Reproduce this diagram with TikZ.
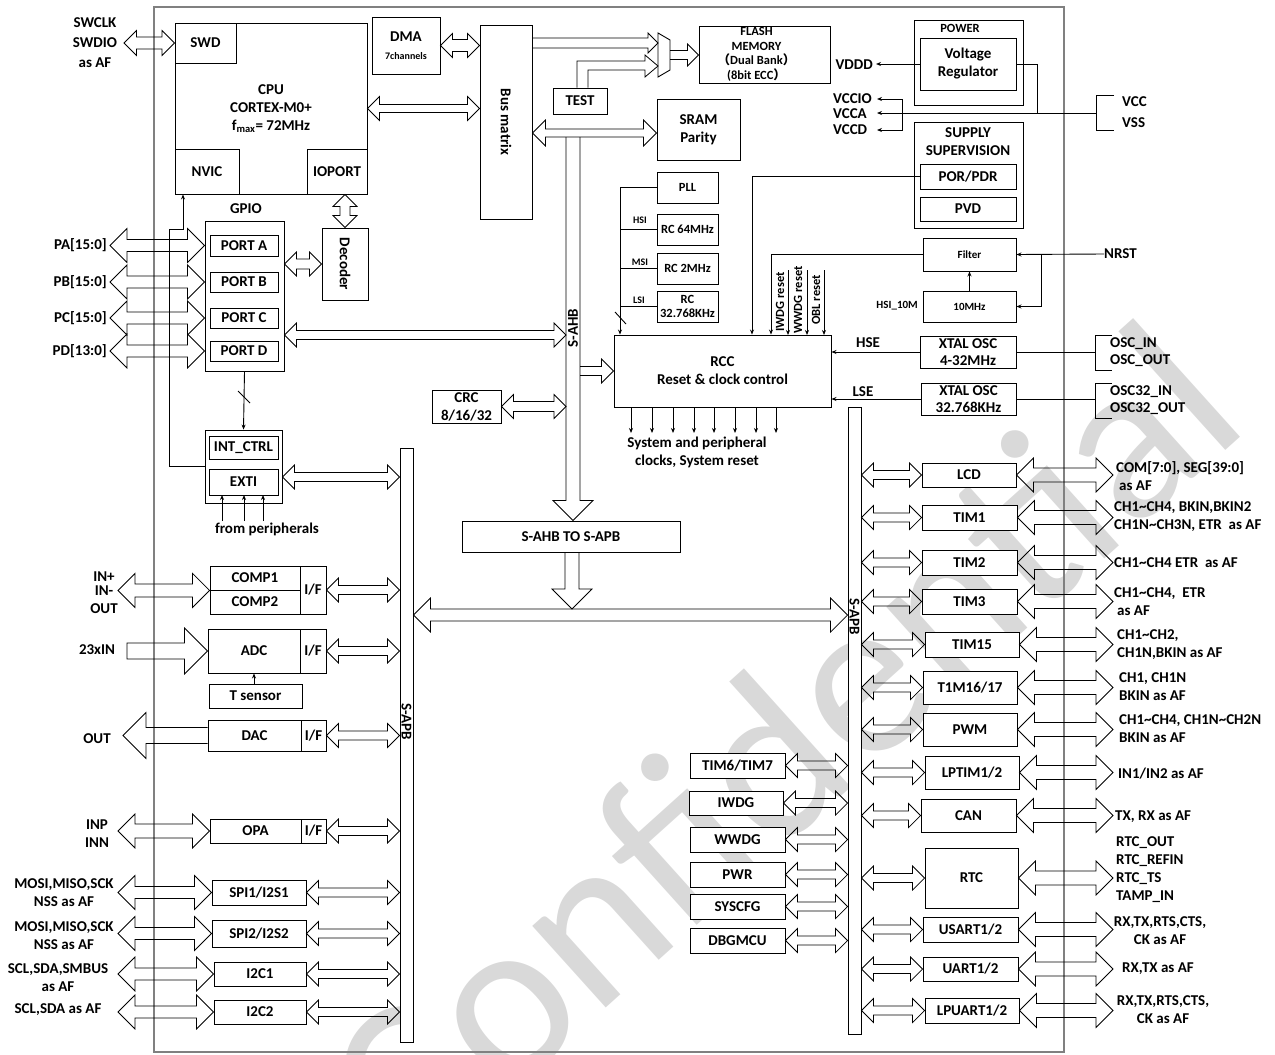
\documentclass[tikz,border=0pt]{standalone}
\usepackage{fontspec}
\setmainfont{Carlito}
\newfontfamily\cjk{Noto Sans CJK SC}
\usetikzlibrary{calc,fit,arrows.meta}

\tikzset{
  box/.style={draw, fill=white, line width=.9pt, inner sep=0pt},
  lbl/.style={font=\bfseries\fontsize{15}{18}\selectfont, inner sep=0pt, align=center},
  mid/.style={font=\bfseries\fontsize{12.5}{14.5}\selectfont, inner sep=0pt, align=center},
  sml/.style={font=\bfseries\fontsize{11}{13}\selectfont, inner sep=0pt, align=center},
  tny/.style={font=\bfseries\fontsize{10}{12}\selectfont, inner sep=0pt},
  fat/.style={draw, line width=.8pt, line join=miter},
  wire/.style={line width=.9pt},
  tarr/.style={wire, -{Stealth[length=5pt,width=4pt]}},
}

% box with a label in its middle
\newcommand\blk[5][lbl]{%
  \node[box, fit={#3 #4}] (#2) {};
  \node[#1] (#2-t) at (#2) {#5};}

% hollow block arrows: from, to, shaft half width, head half width
\newcommand\hdbl[4]{%
  \draw[fat] let \p1=#1, \p2=#2, \n1={sign(\x2-\x1)} in
    (\x1,\y1) -- (\x1+\n1*#4pt,\y1+#4pt) -- (\x1+\n1*#4pt,\y1+#3pt)
    -- (\x2-\n1*#4pt,\y1+#3pt) -- (\x2-\n1*#4pt,\y1+#4pt) -- (\x2,\y1)
    -- (\x2-\n1*#4pt,\y1-#4pt) -- (\x2-\n1*#4pt,\y1-#3pt)
    -- (\x1+\n1*#4pt,\y1-#3pt) -- (\x1+\n1*#4pt,\y1-#4pt) -- cycle;}
\newcommand\vdbl[4]{%
  \draw[fat] let \p1=#1, \p2=#2, \n1={sign(\y2-\y1)} in
    (\x1,\y1) -- (\x1+#4pt,\y1+\n1*#4pt) -- (\x1+#3pt,\y1+\n1*#4pt)
    -- (\x1+#3pt,\y2-\n1*#4pt) -- (\x1+#4pt,\y2-\n1*#4pt) -- (\x1,\y2)
    -- (\x1-#4pt,\y2-\n1*#4pt) -- (\x1-#3pt,\y2-\n1*#4pt)
    -- (\x1-#3pt,\y1+\n1*#4pt) -- (\x1-#4pt,\y1+\n1*#4pt) -- cycle;}
\newcommand\hsgl[5][]{%
  \draw[fat] let \p1=#2, \p2=#3, \n1={sign(\x2-\x1)} in
    (\x1,\y1+#4pt) -- (\x2-\n1*#5pt,\y1+#4pt) -- (\x2-\n1*#5pt,\y1+#5pt)
    -- (\x2,\y1) -- (\x2-\n1*#5pt,\y1-#5pt) -- (\x2-\n1*#5pt,\y1-#4pt)
    -- (\x1,\y1-#4pt) #1;}
\newcommand\vsgl[4]{%
  \draw[fat] let \p1=#1, \p2=#2, \n1={sign(\y2-\y1)} in
    (\x1+#3pt,\y1) -- (\x1+#3pt,\y2-\n1*#4pt) -- (\x1+#4pt,\y2-\n1*#4pt)
    -- (\x1,\y2) -- (\x1-#4pt,\y2-\n1*#4pt) -- (\x1-#3pt,\y2-\n1*#4pt)
    -- (\x1-#3pt,\y1);}

\begin{document}
\begin{tikzpicture}[x=1pt,y=-1pt]
\useasboundingbox (0,0) rectangle (1275,1055);

% watermark and chip outline
\begin{scope}
\clip (0,0) rectangle (1275,1055);
\node[text=gray!30, rotate=42, font=\fontsize{230}{230}\selectfont] (wm) at (780,745) {Confidential};
\end{scope}
\draw[gray, line width=1.3pt] (154,7) rectangle (1064,1052);

% core, bus, memories
\blk{cpu}{(175,23)}{(367,194)}{CPU\\CORTEX-M0+\\f\textsubscript{max}= 72MHz}
\blk{swd}{(175,23)}{(236,63)}{SWD}
\blk{nvic}{(175,149)}{(239,194)}{NVIC}
\blk{ioport}{(307,149)}{(367,194)}{IOPORT}
\blk{dma}{(372,17)}{(440,74)}{DMA\\{\fontsize{10}{12}\selectfont 7channels}}
\blk[lbl,rotate=-90]{bus}{(480,25)}{(532,219)}{Bus matrix}
\blk[mid,xshift=-8pt]{flash}{(699,26)}{(830,83)}{FLASH\\MEMORY\\{\cjk （}Dual Bank{\cjk ）}\\(8bit ECC{\cjk ）}}
\blk{test}{(553,88)}{(607,114)}{TEST}
\blk{sram}{(657,99)}{(740,160)}{SRAM\\Parity}
\draw[box] (658,33) -- (670,40) -- (670,70) -- (658,77) -- cycle;
\coordinate (mux) at (664,55);

% power and supervision
\node[box, fit={(914,20) (1023,105)}] (power) {};
\node[mid] (power-t) at (960,28) {POWER};
\blk{vreg}{(920,38)}{(1016,90)}{Voltage\\Regulator}
\node[box, fit={(914,122) (1023,228)}] (supv) {};
\node[lbl] (supv-t) at (968,142) {SUPPLY\\SUPERVISION};
\blk{por}{(920,164)}{(1016,189)}{POR/PDR}
\blk{pvd}{(920,197)}{(1016,221)}{PVD}

% clocks and reset
\blk[mid]{pll}{(657,172)}{(718,203)}{PLL}
\blk[mid]{rc64}{(657,214)}{(718,245)}{RC 64MHz}
\blk[mid]{rc2}{(657,253)}{(718,284)}{RC 2MHz}
\blk[mid]{rc32}{(657,291)}{(718,322)}{RC\\32.768KHz}
\blk{rcc}{(614,335)}{(831,407)}{RCC\\Reset \& clock control}
\blk[sml]{filter}{(923,238)}{(1016,271)}{Filter}
\blk[sml]{osc10}{(923,291)}{(1016,322)}{10MHz}
\blk{xhse}{(920,336)}{(1016,368)}{XTAL OSC\\[-1pt]4-32MHz}
\blk{xlse}{(921,383)}{(1016,415)}{XTAL OSC\\[-1pt]32.768KHz}

% gpio and interrupts
\node[box, fit={(205,221) (284,371)}] (gpio) {};
\node[lbl] (gpio-t) at (246,209) {GPIO};
\blk{porta}{(210,235)}{(278,256)}{PORT A}
\blk{portb}{(210,272)}{(278,292)}{PORT B}
\blk{portc}{(210,308)}{(278,328)}{PORT C}
\blk{portd}{(210,341)}{(278,361)}{PORT D}
\blk[lbl,rotate=-90]{dec}{(322,228)}{(368,300)}{Decoder}
\node[box, fit={(205,430) (282,503)}] (intbox) {};
\blk{intctrl}{(209,436)}{(278,459)}{INT\_CTRL}
\blk{exti}{(209,469)}{(278,495)}{EXTI}
\blk{crc}{(432,390)}{(501,423)}{CRC\\8/16/32}
\blk{conv}{(462,521)}{(680,552)}{S-AHB TO S-APB}

% apb bars
\node[box, fit={(400,448) (413,1042)}] (apbL) {};
\node[lbl, rotate=-90] (apbL-t) at (406.5,722) {S-APB};
\node[box, fit={(848,407) (861,1034)}] (apbR) {};
\node[lbl, rotate=-90] (apbR-t) at (854.5,617) {S-APB};

% analog and serial blocks
\blk{comp1}{(210,566)}{(300,590)}{COMP1}
\blk{comp2}{(210,590)}{(300,614)}{COMP2}
\blk{compif}{(300,566)}{(326,614)}{I/F}
\blk{adc}{(208,629)}{(300,673)}{ADC}
\blk{adcif}{(300,629)}{(326,673)}{I/F}
\blk{tsens}{(209,684)}{(302,708)}{T sensor}
\blk{dac}{(208,720)}{(301,751)}{DAC}
\blk{dacif}{(301,720)}{(326,751)}{I/F}
\blk{opa}{(210,819)}{(301,843)}{OPA}
\blk{opaif}{(301,819)}{(326,843)}{I/F}
\blk{spi1}{(212,880)}{(306,905)}{SPI1/I2S1}
\blk{spi2}{(212,920)}{(306,947)}{SPI2/I2S2}
\blk{i2c1}{(214,962)}{(306,986)}{I2C1}
\blk{i2c2}{(214,1000)}{(306,1024)}{I2C2}

% system blocks
\blk{tim67}{(690,753)}{(785,778)}{TIM6/TIM7}
\blk{iwdg}{(689,791)}{(783,815)}{IWDG}
\blk{wwdg}{(690,827)}{(785,852)}{WWDG}
\blk{pwr}{(690,862)}{(785,887)}{PWR}
\blk{syscfg}{(690,894)}{(785,919)}{SYSCFG}
\blk{dbg}{(690,928)}{(785,953)}{DBGMCU}

% timers and comms
\blk{lcd}{(922,463)}{(1016,487)}{LCD}
\blk{tim1}{(922,505)}{(1017,530)}{TIM1}
\blk{tim2}{(922,550)}{(1017,575)}{TIM2}
\blk{tim3}{(922,589)}{(1017,614)}{TIM3}
\blk{tim15}{(925,632)}{(1019,657)}{TIM15}
\blk{tim1617}{(923,671)}{(1017,704)}{T1M16/17}
\blk{pwm}{(923,713)}{(1017,746)}{PWM}
\blk{lptim}{(925,756)}{(1019,789)}{LPTIM1/2}
\blk{can}{(921,799)}{(1016,832)}{CAN}
\blk{rtc}{(925,848)}{(1018,908)}{RTC}
\blk{usart}{(923,917)}{(1018,942)}{USART1/2}
\blk{uart}{(923,957)}{(1018,981)}{UART1/2}
\blk{lpuart}{(925,998)}{(1019,1023)}{LPUART1/2}

% bus arrows
\coordinate (ahbL) at (566,137);
\coordinate (ahbR) at (580,137);
\hdbl{(swd.west -| 124,0)}{(swd.west)}{6}{12.5}
\hdbl{(dma.east)}{(bus.west |- dma.east)}{6}{12}
\hdbl{(cpu.east)}{(bus.west |- cpu.east)}{4}{12}
\hsgl{(bus.east |- 0,43)}{(658,43)}{5}{10}
\draw[fat] (test.north -| 577,0) -- (577,61) -- (645,61) -- (645,55) -- (658,66)
  -- (645,77) -- (645,70) -- (588,70) -- (test.north -| 588,0);
\hsgl{(670,55)}{(flash.west)}{4.5}{11}
\hdbl{(bus.east |- 0,133)}{(sram.west |- 0,133)}{4}{13}
\vdbl{(ioport.south -| dec.north)}{(dec.north)}{5}{12}
\hdbl{(gpio.east |- dec)}{(dec.west)}{5}{12}
\vsgl{(573,137)}{(conv.north -| 573,0)}{7}{20}
\node[lbl, rotate=90] (ahb-t) at (573,328) {S-AHB};
\hdbl{(gpio.east |- 0,335)}{(ahbL |- 0,335)}{4.5}{12}
\hdbl{(crc.east)}{(ahbL |- crc.east)}{5}{12}
\hsgl{(ahbR |- rcc.west)}{(rcc.west)}{4.5}{12}
\vsgl{(conv.south -| 572,0)}{(572,609)}{7}{20}
\hdbl{(apbL.east |- 0,615)}{(apbR.west |- 0,615)}{6}{17}
\hdbl{(intbox.east |- 0,477)}{(apbL.west |- 0,477)}{4.5}{12}

% pins on the left
\node[lbl] (swdl) at (95,43) {SWCLK\\[2pt]SWDIO\\[2pt]as AF};
\foreach \port/\lab/\txt in {porta/pa/PA[15:0], portb/pb/PB[15:0], portc/pc/PC[15:0], portd/pd/PD[13:0]}{
  \hdbl{(110,0 |- \port)}{(gpio.west |- \port)}{6}{17}
  \node[lbl, anchor=east] (\lab) at (107,0 |- \port) {\txt};
}
\hdbl{(118,0 |- comp1.south west)}{(comp1.south west)}{6.5}{17}
\node[lbl] (inp1) at (104,577) {IN+};
\node[lbl] (inn1) at (104,591) {IN-};
\node[lbl] (out1) at (104,609) {OUT};
\hsgl[-- cycle]{(127,0 |- adc.west)}{(adc.west)}{8}{23}
\node[lbl] (adcin) at (97,650) {23xIN};
\hsgl{(dac.west)}{(123,0 |- dac.west)}{8}{23}
\node[lbl] (dacout) at (97,739) {OUT};
\hdbl{(118,0 |- opa.west)}{(opa.west)}{7}{17}
\node[lbl] (opal) at (97,834) {INP\\INN};
\foreach \b in {spi1,spi2,i2c1,i2c2}{\hdbl{(118,0 |- \b.west)}{(\b.west)}{6}{17}}
\node[lbl] (spi1l) at (64,893) {MOSI,MISO,SCK\\NSS as AF};
\node[lbl] (spi2l) at (64,936) {MOSI,MISO,SCK\\NSS as AF};
\node[lbl] (i2c1l) at (58,978) {SCL,SDA,SMBUS\\as AF};
\node[lbl] (i2c2l) at (58,1010) {SCL,SDA as AF};
\foreach \b in {compif,adcif,dacif,opaif,spi1,spi2,i2c1,i2c2}{\hdbl{(\b.east)}{(apbL.west |- \b.east)}{4.5}{12}}

% apb peripherals on the right
\foreach \b in {tim67,iwdg,wwdg,pwr,syscfg,dbg}{\hdbl{(\b.east)}{(apbR.west |- \b.east)}{4.5}{12}}
\foreach \b in {lcd,tim1,tim2,tim3,tim15,tim1617,pwm,lptim,can,rtc,usart,uart,lpuart}{
  \hdbl{(apbR.east |- \b.west)}{(\b.west)}{4.5}{12}
  \hdbl{(\b.east)}{(1113,0 |- \b.east)}{7}{17}
}
\node[lbl, anchor=west, align=left] (lcdl) at (1116,476) {COM[7:0], SEG[39:0]\\\hspace*{3pt}as AF};
\node[lbl, anchor=west, align=left] (tim1l) at (1114,517) {CH1\textasciitilde CH4, BKIN,BKIN2\\CH1N\textasciitilde CH3N, ETR\ \ as AF};
\node[lbl, anchor=west, align=left] (tim2l) at (1114,563) {CH1\textasciitilde CH4 ETR\ \ as AF};
\node[lbl, anchor=west, align=left] (tim3l) at (1114,602) {CH1\textasciitilde CH4,\ \ ETR\\\hspace*{3pt}as AF};
\node[lbl, anchor=west, align=left] (tim15l) at (1117,645) {CH1\textasciitilde CH2,\\CH1N,BKIN as AF};
\node[lbl, anchor=west, align=left] (tim1617l) at (1119,687) {CH1, CH1N\\BKIN as AF};
\node[lbl, anchor=west, align=left] (pwml) at (1119,729) {CH1\textasciitilde CH4, CH1N\textasciitilde CH2N\\BKIN as AF};
\node[lbl, anchor=west] (lptiml) at (1118,774) {IN1/IN2 as AF};
\node[lbl, anchor=west] (canl) at (1115,817) {TX, RX as AF};
\node[lbl, anchor=west, align=left] (rtcl) at (1116,870) {RTC\_OUT\\RTC\_REFIN\\RTC\_TS\\TAMP\_IN};
\node[lbl] (usartl) at (1160,931) {RX,TX,RTS,CTS,\\CK as AF};
\node[lbl] (uartl) at (1158,969) {RX,TX as AF};
\node[lbl] (lpuartl) at (1163,1010) {RX,TX,RTS,CTS,\\CK as AF};

% power wiring
\node[lbl, anchor=east] (vddd) at (873,65) {VDDD};
\draw[tarr] (vreg.west) -- (vreg.west -| 876,0);
\draw[wire] (vreg.east) -| (1037,113);
\node[lbl, anchor=west] (vccio) at (833,99) {VCCIO};
\node[lbl, anchor=west] (vcca) at (833,114) {VCCA};
\node[lbl, anchor=west] (vccd) at (833,130) {VCCD};
\coordinate (vcc) at (1096,113);
\draw[tarr] (vcc) -- (vcc -| 877,0);
\draw[tarr] (902,113) |- (vccio.east -| 877,0);
\draw[tarr] (902,113) |- (vccd.east -| 877,0);
\draw[wire] (1114,95) -- (1096,95) -- (1096,130) -- (1114,130);
\node[lbl, anchor=west] (vccl) at (1122,102) {VCC};
\node[lbl, anchor=west] (vssl) at (1122,123) {VSS};

% reset wiring
\draw[tarr] (por.west) -| (rcc.north -| 752,0);
\draw[tarr] (filter.west) -| (rcc.north -| 771,0);
\foreach \x in {788,807,824}{\draw[tarr] (\x,270) -- (\x,335);}
\node[mid, rotate=90] (iwdgr) at (780,302) {IWDG reset};
\node[mid, rotate=90] (wwdgr) at (798,300) {WWDG reset};
\node[mid, rotate=90] (oblr) at (816,300) {OBL reset};
\node[lbl, anchor=west] (nrst) at (1104,254) {NRST};
\draw[tarr] (nrst.west) -- (filter.east);
\draw[tarr] (1041,0 |- filter.east) |- (osc10.east);
\draw[tarr] (osc10.north) -- (filter.south);
\node[sml, anchor=east] (hsi10) at (918,306) {HSI\_10M};

% clock wiring
\coordinate (ck) at (620,187);
\draw[tarr] (pll.west) -| (rcc.north -| ck);
\foreach \b in {rc64,rc2,rc32}{\draw[wire] (\b.west) -- (\b.west -| ck);}
\node[tny] (hsi) at (640,220) {HSI};
\node[tny] (msi) at (640,262) {MSI};
\node[tny] (lsi) at (639,300) {LSI};
\draw[wire] (615,312) -- (626,324);
\foreach \x in {631,652,673,694,714,735,756,776}{\draw[tarr] (\x,407) -- (\x,433);}
\node[lbl] (sysclk) at (697,452) {System and peripheral\\clocks, System reset};
\draw[tarr] (xhse.west) -- (xhse.west -| rcc.east);
\draw[tarr] (xlse.west) -- (xlse.west -| rcc.east);
\node[lbl] (hse) at (868,343) {HSE};
\node[lbl] (lse) at (863,392) {LSE};
\draw[wire] (xhse.east) -- (1095,0 |- xhse.east);
\draw[wire] (1112,335) -- (1095,335) -- (1095,370) -- (1112,370);
\node[lbl, anchor=west, align=left] (oscl) at (1110,352) {OSC\_IN\\[-1pt]OSC\_OUT};
\draw[wire] (xlse.east) -- (1095,0 |- xlse.east);
\draw[wire] (1112,383) -- (1095,383) -- (1095,418) -- (1112,418);
\node[lbl, anchor=west, align=left] (osc32l) at (1110,400) {OSC32\_IN\\[-1pt]OSC32\_OUT};

% interrupt wiring
\draw[tarr] (intbox.west) -- (169,0 |- intbox.west) -- (169,229) -- (183,229) -- (nvic.south -| 183,0);
\draw[tarr] (gpio.south) -- (intbox.north);
\draw[wire] (238,391) -- (250,403);
\foreach \x in {222,244,263}{\draw[tarr] (\x,521) -- (\x,495);}
\node[lbl] (fromp) at (267,529) {from peripherals};
\draw[tarr] (tsens.north -| adc.south) -- (adc.south);
\end{tikzpicture}
\end{document}
